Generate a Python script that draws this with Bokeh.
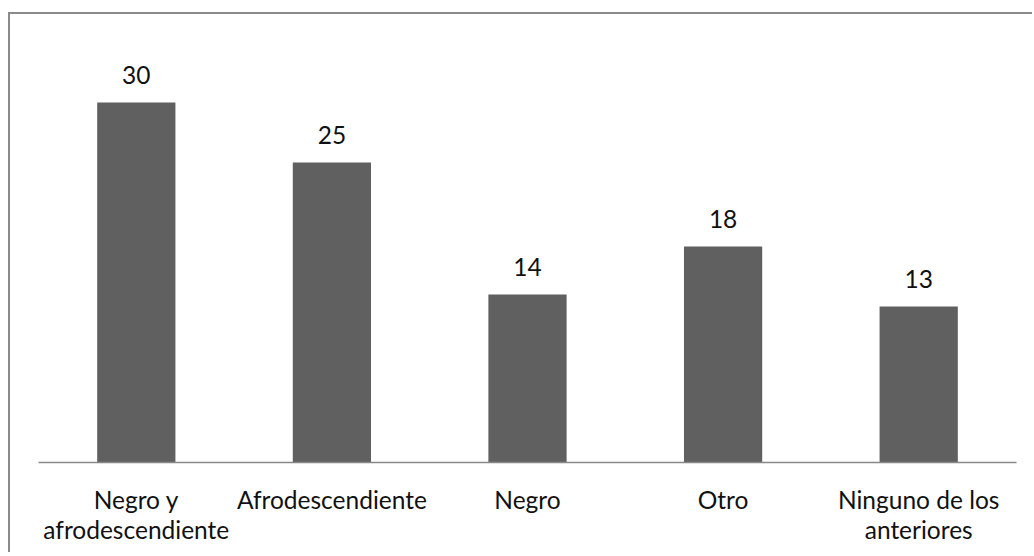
from bokeh.plotting import figure
from bokeh.models import ColumnDataSource, LabelSet, FactorRange, Range1d
from bokeh.core.properties import value
from bokeh.embed import file_html
from bokeh.resources import INLINE

categories = ["Negro y\nafrodescendiente", "Afrodescendiente", "Negro", "Otro", "Ninguno de los\nanteriores"]
values = [30, 25, 14, 18, 13]
value_labels = [str(v) for v in values]

src = ColumnDataSource(dict(cat=categories, val=values, lab=value_labels))

FONT = "Lato"
p = figure(width=1024, height=540, output_backend="svg", toolbar_location=None,
           x_range=FactorRange(*categories), y_range=Range1d(0, 36),
           y_axis_location=None, tools="",
           min_border_left=28, min_border_right=18, min_border_top=16, min_border_bottom=92)
p.styles = {"margin-top": "12px", "margin-left": "8px",
            "border-top": "2px solid #8a8a8a", "border-left": "2px solid #8a8a8a"}
p.outline_line_color = None
p.xgrid.grid_line_color = None
p.ygrid.grid_line_color = None
p.background_fill_color = "white"
p.border_fill_color = "white"

p.vbar(x="cat", top="val", width=0.4, source=src, fill_color="#606060", line_color=None)

labels = LabelSet(x="cat", y="val", text="lab", source=src, text_align="center",
                  text_baseline="middle", y_offset=28, text_font=value(FONT),
                  text_font_size="24.5px", text_color="#111111")
p.add_layout(labels)

ax = p.xaxis[0]
ax.axis_line_color = "#888888"
ax.axis_line_width = 1.5
ax.major_tick_line_color = None
ax.minor_tick_line_color = None
ax.major_label_text_font = FONT
ax.major_label_text_font_size = "24.5px"
ax.major_label_text_color = "#111111"
ax.major_label_text_line_height = 1.05
ax.major_label_standoff = 16

open("out.html", "w").write(file_html(p, INLINE))
